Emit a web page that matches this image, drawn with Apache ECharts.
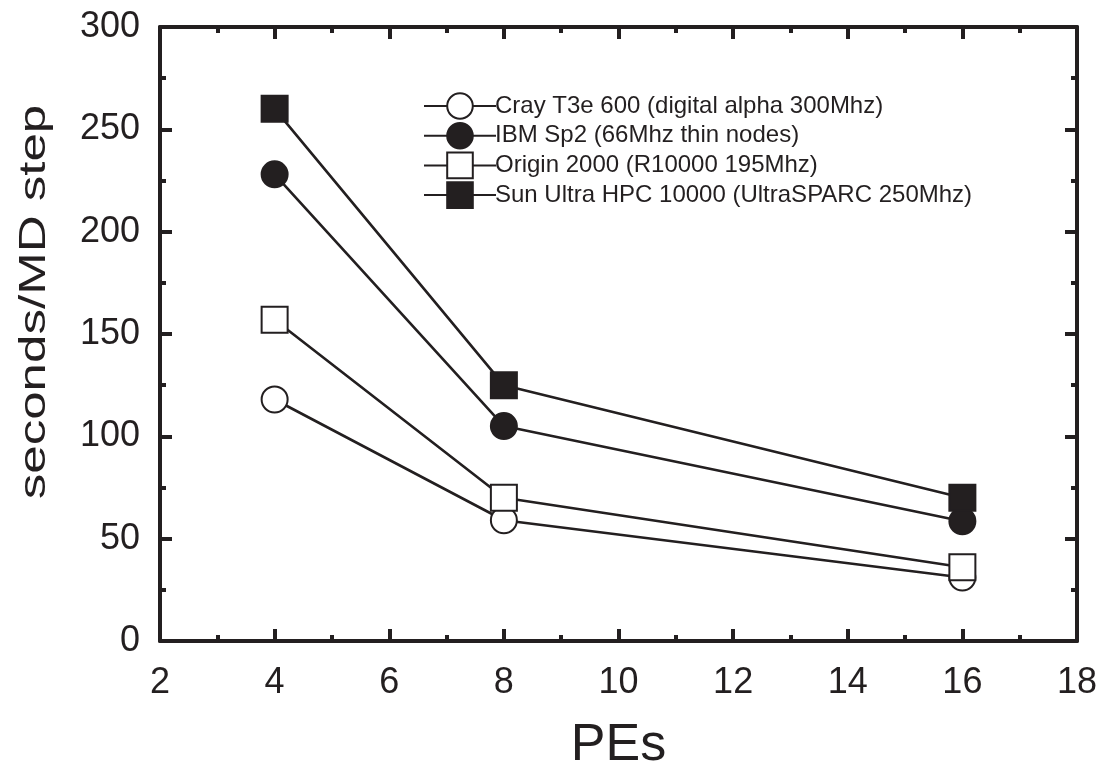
<!DOCTYPE html>
<html><head><meta charset="utf-8">
<script src="https://cdn.jsdelivr.net/npm/echarts@6/dist/echarts.min.js"></script>
<style>html,body{margin:0;padding:0;background:#fff}#c{width:1109px;height:772px}</style>
</head><body><div id="c"></div>
<script>
const pes = [4, 8, 16];
const cray = [118, 59, 31];
const ibm = [228, 105, 58.5];
const origin = [157, 70, 36];
const sun = [260, 125, 70];
const names = ['Cray T3e 600 (digital alpha 300Mhz)', 'IBM Sp2 (66Mhz thin nodes)', 'Origin 2000 (R10000 195Mhz)', 'Sun Ultra HPC 10000 (UltraSPARC 250Mhz)'];
const xTicks = [2, 4, 6, 8, 10, 12, 14, 16, 18];
const yTicks = [0, 50, 100, 150, 200, 250, 300];
const xTitle = 'PEs';
const yTitle = 'seconds/MD step';

const font = 'Liberation Sans, Arial, sans-serif';
const C = '#231f20';
function ser(name, vals, symbol, filled) {
  return {
    name, type: 'line', data: pes.map((x, i) => [x, vals[i]]),
    symbol, symbolSize: 26,
    showAllSymbol: true,
    lineStyle: { color: C, width: 2.6 },
    itemStyle: { color: filled ? C : '#fff', borderColor: C, borderWidth: 2 },
    emphasis: { disabled: true }, z: 2
  };
}
const axisCommon = {
  axisLine: { show: true, onZero: false, lineStyle: { color: C, width: 4 } },
  axisTick: { show: true, inside: true, length: 12, lineStyle: { color: C, width: 4 } },
  minorTick: { show: true, splitNumber: 2, length: 6, lineStyle: { color: C, width: 4 } },
  splitLine: { show: false }
};
const chart = echarts.init(document.getElementById('c'), null, { renderer: 'canvas' });
chart.setOption({
  animation: false,
  backgroundColor: '#fff',
  grid: { left: 160, right: 32, top: 27, bottom: 131, containLabel: false, outerBoundsMode: 'none' },
  legend: {
    orient: 'vertical', left: 418, top: 85, itemWidth: 72, itemHeight: 32, itemGap: -2.3,
    textStyle: { fontFamily: font, fontSize: 24, color: C, padding: [0, 0, 0, -6], lineHeight: 32, height: 32 },
    data: names
  },
  xAxis: [
    Object.assign({}, axisCommon, {
      type: 'value', min: 2, max: 18, interval: 2, position: 'bottom',
      name: xTitle, nameLocation: 'middle', nameGap: 79,
      nameTextStyle: { fontFamily: font, fontSize: 52, color: C },
      axisLabel: { fontFamily: font, fontSize: 36, color: C, margin: 24, formatter: v => xTicks.includes(v) ? String(v) : '' }
    }),
    Object.assign({}, axisCommon, {
      type: 'value', min: 2, max: 18, interval: 2, position: 'top',
      axisLabel: { show: false }
    })
  ],
  yAxis: [
    Object.assign({}, axisCommon, {
      type: 'value', min: 0, max: 300, interval: 50, position: 'left',
      axisLabel: { fontFamily: font, fontSize: 36, color: C, margin: 20, formatter: v => yTicks.includes(v) ? String(v) : '' }
    }),
    Object.assign({}, axisCommon, {
      type: 'value', min: 0, max: 300, interval: 50, position: 'right',
      axisLabel: { show: false }
    })
  ],
  graphic: [{
    type: 'text', x: 35, y: 302, rotation: Math.PI / 2, scaleX: 1.38, scaleY: 1,
    style: { text: yTitle, font: '37px ' + font, fill: C, align: 'center', verticalAlign: 'middle' }
  }],
  series: [
    ser(names[0], cray, 'circle', false),
    ser(names[1], ibm, 'circle', true),
    ser(names[2], origin, 'rect', false),
    ser(names[3], sun, 'rect', true)
  ]
});
</script></body></html>
